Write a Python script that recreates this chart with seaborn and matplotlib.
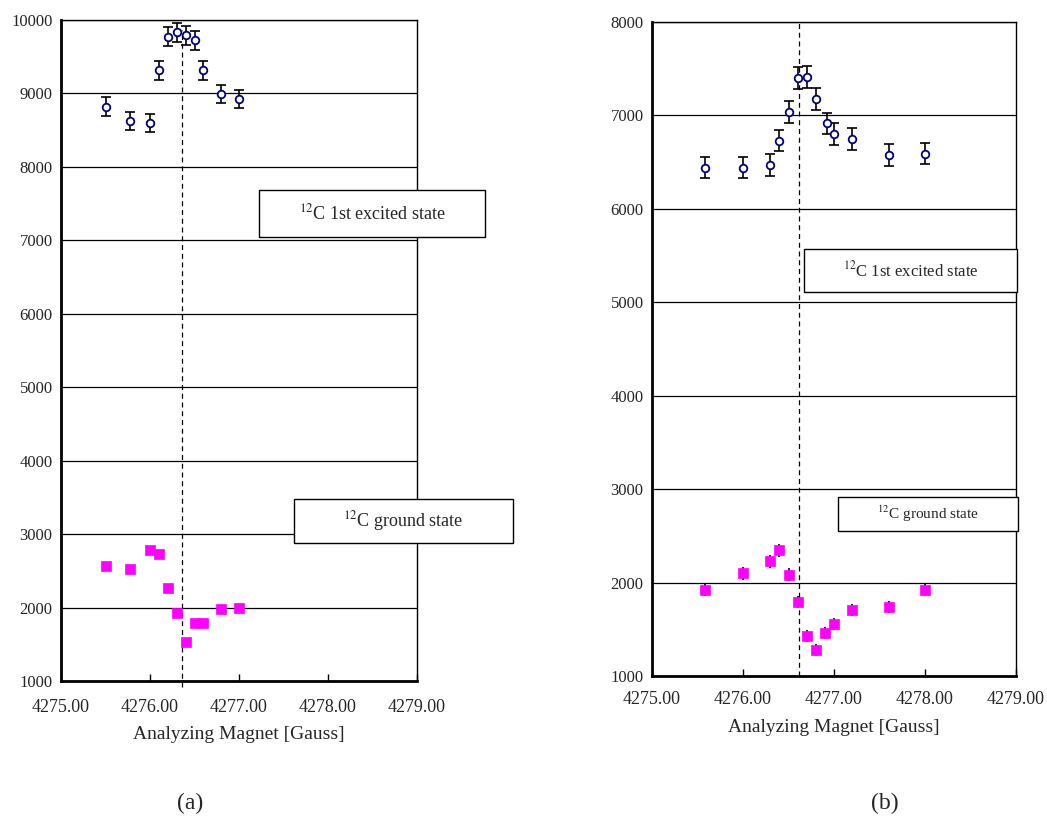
import matplotlib
matplotlib.use("Agg")
import matplotlib.pyplot as plt
from matplotlib.patches import Rectangle
import seaborn as sns
import pandas as pd

# (a) panel data
a_exc_x = [4275.50, 4275.78, 4276.00, 4276.10, 4276.20, 4276.30, 4276.40, 4276.50, 4276.60, 4276.80, 4277.00]
a_exc_y = [8820, 8625, 8595, 9315, 9775, 9835, 9790, 9725, 9315, 8995, 8925]
a_exc_err = [125, 125, 125, 130, 130, 130, 130, 130, 130, 125, 125]
a_gnd_x = [4275.50, 4275.78, 4276.00, 4276.10, 4276.20, 4276.30, 4276.40, 4276.50, 4276.60, 4276.80, 4277.00]
a_gnd_y = [2560, 2530, 2780, 2725, 2265, 1930, 1525, 1795, 1795, 1985, 2000]
a_gnd_err = [55, 55, 55, 55, 50, 50, 50, 50, 50, 50, 50]
a_center = 4276.36

# (b) panel data
b_exc_x = [4275.58, 4276.00, 4276.30, 4276.40, 4276.50, 4276.60, 4276.70, 4276.80, 4276.92, 4277.00, 4277.20, 4277.60, 4278.00]
b_exc_y = [6440, 6440, 6470, 6730, 7035, 7400, 7410, 7175, 6915, 6800, 6750, 6575, 6590]
b_exc_err = [115, 115, 115, 115, 115, 120, 120, 115, 115, 115, 115, 115, 115]
b_gnd_x = [4275.58, 4276.00, 4276.30, 4276.40, 4276.50, 4276.60, 4276.70, 4276.80, 4276.90, 4277.00, 4277.20, 4277.60, 4278.00]
b_gnd_y = [1925, 2100, 2228, 2347, 2082, 1790, 1430, 1277, 1460, 1560, 1706, 1738, 1918]
b_gnd_err = [70, 70, 70, 70, 70, 65, 65, 65, 65, 65, 65, 65, 65]
b_center = 4276.62

xticks = [4275, 4276, 4277, 4278, 4279]
xticklabels = ["4275.00", "4276.00", "4277.00", "4278.00", "4279.00"]

sns.set_style("white")
plt.rcParams['font.family'] = ['Liberation Serif', 'DejaVu Serif']
plt.rcParams['mathtext.fontset'] = 'stix'

W, H = 1047, 825
fig = plt.figure(figsize=(W / 100, H / 100), dpi=100)


def px_axes(x0, y0, x1, y1):
    return fig.add_axes([x0 / W, 1 - y1 / H, (x1 - x0) / W, (y1 - y0) / H])


def box_label(x0, y0, x1, y1, text, size):
    fig.add_artist(Rectangle((x0 / W, 1 - y1 / H), (x1 - x0) / W, (y1 - y0) / H,
                             transform=fig.transFigure, fill=True, facecolor='white',
                             edgecolor='black', lw=1.0, zorder=5))
    fig.text((x0 + x1) / 2 / W, 1 - (y0 + y1) / 2 / H, text, ha='center', va='center',
             fontsize=size, zorder=6)


def panel(ax, ex, ey, ee, gx, gy, ge, center, ylim, dash_y, xpad, lpad):
    ax.errorbar(ex, ey, yerr=ee, fmt='none', ecolor='black', elinewidth=1.2,
                capsize=3.5, capthick=1.2, zorder=3)
    ax.errorbar(gx, gy, yerr=ge, fmt='none', ecolor='black', elinewidth=1.2,
                capsize=0, zorder=3)
    df_e = pd.DataFrame({'x': ex, 'y': ey})
    df_g = pd.DataFrame({'x': gx, 'y': gy})
    sns.scatterplot(data=df_e, x='x', y='y', ax=ax, marker='o', s=30,
                    facecolor='white', edgecolor='#000080', linewidth=1.3, zorder=4)
    sns.scatterplot(data=df_g, x='x', y='y', ax=ax, marker='s', s=55,
                    color='#FF00FF', edgecolor='#FF00FF', linewidth=0.5, zorder=4)
    ax.plot([center, center], dash_y, color='black', ls=(0, (4, 3)), lw=0.9,
            clip_on=False, zorder=2)
    ax.set_xlim(4275, 4279)
    ax.set_ylim(*ylim)
    ax.set_xticks(xticks)
    ax.set_xticklabels(xticklabels, fontsize=13)
    ax.set_yticks(range(ylim[0], ylim[1] + 1, 1000))
    ax.tick_params(axis='y', length=0, labelsize=12, pad=6)
    ax.tick_params(axis='x', direction='in', length=5, width=1, color='black', pad=xpad,
                   bottom=True)
    ax.grid(axis='y', color='black', lw=0.9)
    ax.grid(axis='x', visible=False)
    ax.set_xlabel('Analyzing Magnet [Gauss]', fontsize=14, labelpad=lpad)
    ax.set_ylabel('')
    for side in ['left', 'bottom']:
        ax.spines[side].set_linewidth(2.0)
        ax.spines[side].set_color('black')
    for side in ['top', 'right']:
        ax.spines[side].set_linewidth(1.0)
        ax.spines[side].set_color('black')


ax_a = px_axes(61, 20, 417, 681)
panel(ax_a, a_exc_x, a_exc_y, a_exc_err, a_gnd_x, a_gnd_y, a_gnd_err,
      a_center, (1000, 10000), [920, 9870], 13, 7)

ax_b = px_axes(652, 22, 1016, 676)
panel(ax_b, b_exc_x, b_exc_y, b_exc_err, b_gnd_x, b_gnd_y, b_gnd_err,
      b_center, (1000, 8000), [1000, 8000], 11, 8)

box_label(259, 190, 485, 237, r'$^{12}$C 1st excited state', 13)
box_label(294, 499, 513, 543, r'$^{12}$C ground state', 13)
box_label(804, 249, 1017, 292, r'$^{12}$C 1st excited state', 12)
box_label(838, 497, 1018, 531, r'$^{12}$C ground state', 11)

fig.text(190 / W, 1 - 803 / H, '(a)', ha='center', va='center', fontsize=17)
fig.text(885 / W, 1 - 803 / H, '(b)', ha='center', va='center', fontsize=17)

fig.savefig('out.png', dpi=100)
